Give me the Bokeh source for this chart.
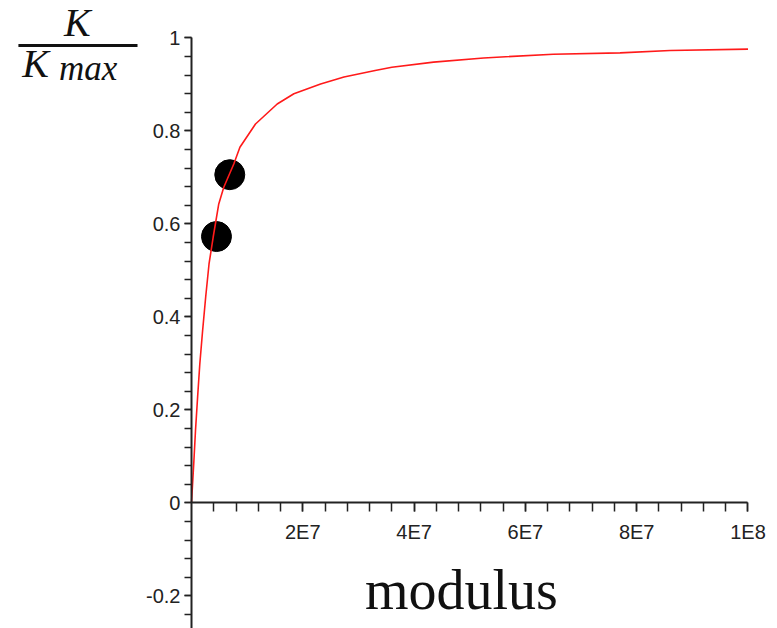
from bokeh.plotting import figure
from bokeh.models import Range1d, LinearAxis, FixedTicker, Label, BoxAnnotation
from bokeh.embed import file_html
from bokeh.resources import INLINE

# ---- data ----
modulus = [0, 0.4e6, 0.72e6, 1.1e6, 1.5e6, 2.0e6, 2.55e6, 3.15e6, 3.9e6, 4.9e6,
           5.8e6, 7.6e6, 8.7e6, 1.15e7, 1.54e7, 1.84e7, 2.32e7, 2.74e7, 3.3e7,
           3.6e7, 4.35e7, 5.25e7, 6.5e7, 7.7e7, 8.6e7, 1.0e8]
k_ratio = [0, 0.084, 0.156, 0.228, 0.300, 0.371, 0.443, 0.514, 0.572, 0.643,
           0.679, 0.729, 0.765, 0.815, 0.858, 0.880, 0.901, 0.916, 0.930,
           0.937, 0.948, 0.957, 0.965, 0.968, 0.973, 0.976]

point_x = [4.49e6, 6.88e6]
point_y = [0.573, 0.706]

x_major = [2e7, 4e7, 6e7, 8e7, 1e8]
x_labels = ["2E7", "4E7", "6E7", "8E7", "1E8"]
x_minor = [i * 4e6 for i in range(1, 26)]

y_major = [-0.2, 0, 0.2, 0.4, 0.6, 0.8, 1]
y_labels = ["-0.2", "0", "0.2", "0.4", "0.6", "0.8", "1"]
y_minor = [round(-0.24 + i * 0.04, 2) for i in range(32)]

# ---- figure: frame covers the whole canvas, axes cross at the origin ----
p = figure(width=777, height=628, output_backend="svg", toolbar_location=None,
           x_range=Range1d(-3.432e7, 1.05301e8), y_range=Range1d(-0.2699, 1.0806),
           x_axis_location=None, y_axis_location=None,
           min_border_left=0, min_border_right=0, min_border_top=0,
           min_border_bottom=0)
p.grid.visible = False
p.outline_line_color = None
p.background_fill_color = "white"
p.border_fill_color = "white"

TICK_FONT = "Liberation Sans"
AX = "#222222"


def style(ax, tick_out, standoff):
    ax.axis_line_width = 2
    ax.axis_line_color = AX
    ax.major_tick_line_width = 1.5
    ax.minor_tick_line_width = 1.5
    ax.major_tick_line_color = AX
    ax.minor_tick_line_color = AX
    ax.major_tick_in = 0
    ax.major_tick_out = tick_out
    ax.minor_tick_in = 0
    ax.minor_tick_out = tick_out
    ax.major_label_standoff = standoff
    ax.major_label_text_font = TICK_FONT
    ax.major_label_text_font_size = "20px"
    ax.major_label_text_color = AX


# y axis at x = 0
ya = LinearAxis(fixed_location=0, bounds=(-0.28, 1),
                ticker=FixedTicker(ticks=y_major, minor_ticks=y_minor))
ya.major_label_overrides = {v: s for v, s in zip(y_major, y_labels)}
style(ya, 7, 4)
p.add_layout(ya, "left")

# x axis at y = 0
xa = LinearAxis(fixed_location=0, bounds=(0, 1e8),
                ticker=FixedTicker(ticks=x_major, minor_ticks=x_minor))
xa.major_label_overrides = {v: s for v, s in zip(x_major, x_labels)}
style(xa, 9, 9)
p.add_layout(xa, "below")

# data
p.scatter(point_x, point_y, size=30, color="black")
p.line(modulus, k_ratio, line_color="#ff1a1a", line_width=1.6)

# axis titles
SERIF = "Liberation Serif"
TXT = "#111111"
p.add_layout(Label(x=-2.05e7, y=1.033, text="K", text_font=SERIF,
                   text_font_style="italic", text_font_size="40px",
                   text_align="center", text_baseline="alphabetic",
                   text_color=TXT))
p.add_layout(BoxAnnotation(left=-3.11e7, right=-0.97e7, top=0.987, bottom=0.9806,
                           fill_color=TXT, fill_alpha=1, line_color=None))
p.add_layout(Label(x=-3.04e7, y=0.946, text="K", text_font=SERIF,
                   text_font_style="italic", text_font_size="40px",
                   text_align="left", text_baseline="alphabetic",
                   text_color=TXT))
p.add_layout(Label(x=-2.38e7, y=0.934, text="max", text_font=SERIF,
                   text_font_style="italic", text_font_size="35px",
                   text_align="left", text_baseline="alphabetic",
                   text_color=TXT))
p.add_layout(Label(x=4.85e7, y=-0.1867, text="modulus", text_font=SERIF,
                   text_font_size="56px", text_align="center",
                   text_baseline="alphabetic", text_color=TXT))

open("out.html", "w").write(file_html(p, INLINE))
